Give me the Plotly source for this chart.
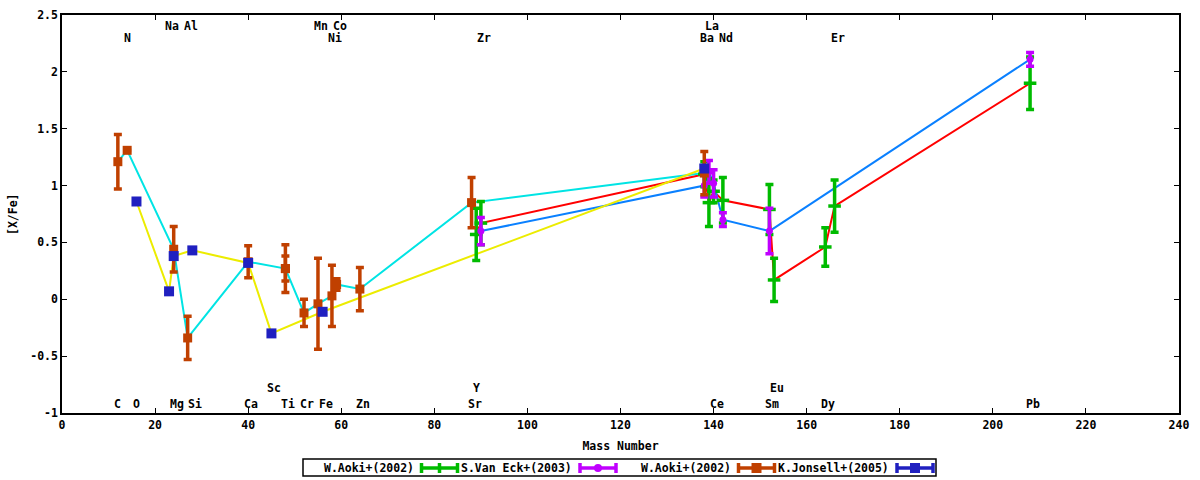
import plotly.graph_objects as go

# W.Aoki+(2002) -- green error bars, red connecting line
aoki_mass = [89, 90, 138, 139, 140, 142, 152, 153, 164, 166, 208]
aoki_xfe = [0.57, 0.67, 1.10, 0.85, 0.95, 0.87, 0.79, 0.17, 0.46, 0.82, 1.90]
aoki_err = [0.23, 0.19, 0.11, 0.21, 0.10, 0.20, 0.22, 0.19, 0.17, 0.23, 0.23]

# S.Van Eck+(2003) -- purple error bars, blue connecting line
vaneck_mass = [90, 138, 139, 140, 142, 152, 208]
vaneck_xfe = [0.60, 1.00, 1.12, 1.02, 0.70, 0.60, 2.11]
vaneck_err = [0.12, 0.10, 0.10, 0.12, 0.06, 0.20, 0.06]

# W.Aoki+(2002) second set -- orange error bars, cyan connecting line
aoki2_mass = [12, 14, 24, 27, 40, 48, 48, 52, 55, 58, 59, 64, 88, 138]
aoki2_xfe = [1.21, 1.31, 0.44, -0.34, 0.33, 0.27, 0.27, -0.12, -0.04, 0.03, 0.13, 0.09, 0.85, 1.11]
aoki2_err = [0.24, 0.0, 0.20, 0.19, 0.14, 0.21, 0.11, 0.12, 0.40, 0.27, 0.05, 0.19, 0.22, 0.19]

# K.Jonsell+(2005) -- blue squares, yellow connecting line
jonsell_mass = [16, 23, 24, 28, 40, 45, 56, 138]
jonsell_xfe = [0.86, 0.07, 0.38, 0.43, 0.32, -0.30, -0.11, 1.15]
jonsell_err = [0, 0, 0, 0, 0, 0, 0, 0]

# element labels: name, mass number, height
elem_names = ["Na", "Al", "Mn", "Co", "La",
              "N", "Ni", "Zr", "Ba", "Nd", "Er",
              "Sc", "Y", "Eu",
              "C", "O", "Mg", "Si", "Ca", "Ti", "Cr", "Fe", "Zn", "Sr", "Ce", "Sm", "Dy", "Pb"]
elem_mass = [23, 27, 55, 59, 139,
             14, 58, 90, 138, 142, 166,
             45, 89, 153,
             12, 16, 24, 28, 40, 48, 52, 56, 64, 88, 140, 152, 164, 208]
elem_y = [2.41] * 5 + [2.3] * 6 + [-0.78] * 3 + [-0.92] * 14

ytick_vals = [-1, -0.5, 0, 0.5, 1, 1.5, 2, 2.5]
ytick_text = ["-1", "-0.5", "0", "0.5", "1", "1.5", "2", "2.5"]
xtick_vals = list(range(0, 241, 20))

font = dict(family="DejaVu Sans Mono", size=11.5, color="black", weight="bold")

fig = go.Figure()

# connecting lines first
for m, v, c in [(aoki_mass, aoki_xfe, "#ff0000"),
                (vaneck_mass, vaneck_xfe, "#0a80ff"),
                (aoki2_mass, aoki2_xfe, "#00e4e4"),
                (jonsell_mass, jonsell_xfe, "#ecec00")]:
    fig.add_trace(go.Scatter(x=m, y=v, mode="lines", line=dict(color=c, width=2),
                             showlegend=False, hoverinfo="skip"))

sets = [
    ("W.Aoki+(2002)", aoki_mass, aoki_xfe, aoki_err, "#00bb00",
     dict(symbol="line-ew", size=9, color="#00bb00", line=dict(color="#00bb00", width=3.5))),
    ("S.Van Eck+(2003)", vaneck_mass, vaneck_xfe, vaneck_err, "#c000ff",
     dict(symbol="circle", size=7, color="#c000ff")),
    ("W.Aoki+(2002)", aoki2_mass, aoki2_xfe, aoki2_err, "#c04000",
     dict(symbol="square", size=9, color="#c04000")),
    ("K.Jonsell+(2005)", jonsell_mass, jonsell_xfe, jonsell_err, "#2020c0",
     dict(symbol="square", size=10, color="#2020c0")),
]
for name, m, v, e, c, mk in sets:
    fig.add_trace(go.Scatter(x=m, y=v, mode="markers", name=name, marker=mk,
                             error_y=dict(type="data", array=e, color=c, thickness=3.5, width=4),
                             showlegend=False))

for n, m, yy in zip(elem_names, elem_mass, elem_y):
    # top rows sit close together, so trim their text boxes
    fig.add_annotation(x=m, y=yy, text=n, showarrow=False, font=font,
                       height=11 if yy > 0 else None,
                       xanchor="center", yanchor="middle", xshift=3 if len(n) == 2 else 0)

L, T, W, H = 62, 15, 1117, 398   # plot area in pixels
def px(x):
    return (x - L) / W
def py(y):
    return (T + H - y) / H

# gnuplot style key below the plot: title then sample
key_y = 468
fig.add_shape(type="rect", xref="paper", yref="paper", x0=px(303), x1=px(936),
              y0=py(476), y1=py(459), line=dict(color="black", width=1.5))
for i, (name, m, v, e, c, mk) in enumerate(sets):
    right = 415.5 + 158.5 * i
    fig.add_annotation(x=px(right), y=py(key_y), xref="paper", yref="paper", text=name,
                       showarrow=False, font=font, xanchor="right", yanchor="middle")
    s0, s1 = right + 6, right + 42
    ln = dict(color=c, width=3.5)
    fig.add_shape(type="line", xref="paper", yref="paper", x0=px(s0), x1=px(s1),
                  y0=py(key_y), y1=py(key_y), line=ln)
    for sx in (s0, s1):
        fig.add_shape(type="line", xref="paper", yref="paper", x0=px(sx), x1=px(sx),
                      y0=py(key_y - 5), y1=py(key_y + 5), line=ln)
    mid = (s0 + s1) / 2
    if mk["symbol"] == "square":
        fig.add_shape(type="rect", xref="paper", yref="paper", x0=px(mid - 5), x1=px(mid + 5),
                      y0=py(key_y + 5), y1=py(key_y - 5), line=dict(width=0), fillcolor=c)
    elif mk["symbol"] == "circle":
        fig.add_shape(type="circle", xref="paper", yref="paper", x0=px(mid - 4), x1=px(mid + 4),
                      y0=py(key_y + 4), y1=py(key_y - 4), line=dict(width=0), fillcolor=c)
    else:
        fig.add_shape(type="line", xref="paper", yref="paper", x0=px(mid), x1=px(mid),
                      y0=py(key_y - 5), y1=py(key_y + 5), line=ln)

# y title placed by hand so it does not push the margin
fig.add_annotation(x=px(13), y=py(214), xref="paper", yref="paper", text="[X/Fe]",
                   textangle=-90, showarrow=False, font=font, xanchor="center", yanchor="middle")

axis_common = dict(showline=True, linecolor="black", linewidth=1.5, mirror="ticks",
                   ticks="inside", ticklen=5, tickwidth=1, tickcolor="black",
                   showgrid=False, zeroline=False, tickfont=font, automargin=False)
fig.update_xaxes(range=[0, 240], tickvals=xtick_vals, title=dict(text="Mass Number", font=font, standoff=11),
                 **axis_common)
fig.update_yaxes(range=[-1, 2.5], tickvals=ytick_vals, ticktext=ytick_text, **axis_common)

fig.update_layout(width=1200, height=480,
                  margin=dict(l=L, r=1200 - L - W, t=T, b=480 - T - H),
                  plot_bgcolor="white", paper_bgcolor="white", showlegend=False)

# drop the browser's default body margin so the figure sits at the window corner
fig.write_html("out.html", config={"displayModeBar": False},
               post_script="document.body.style.margin='0';")
